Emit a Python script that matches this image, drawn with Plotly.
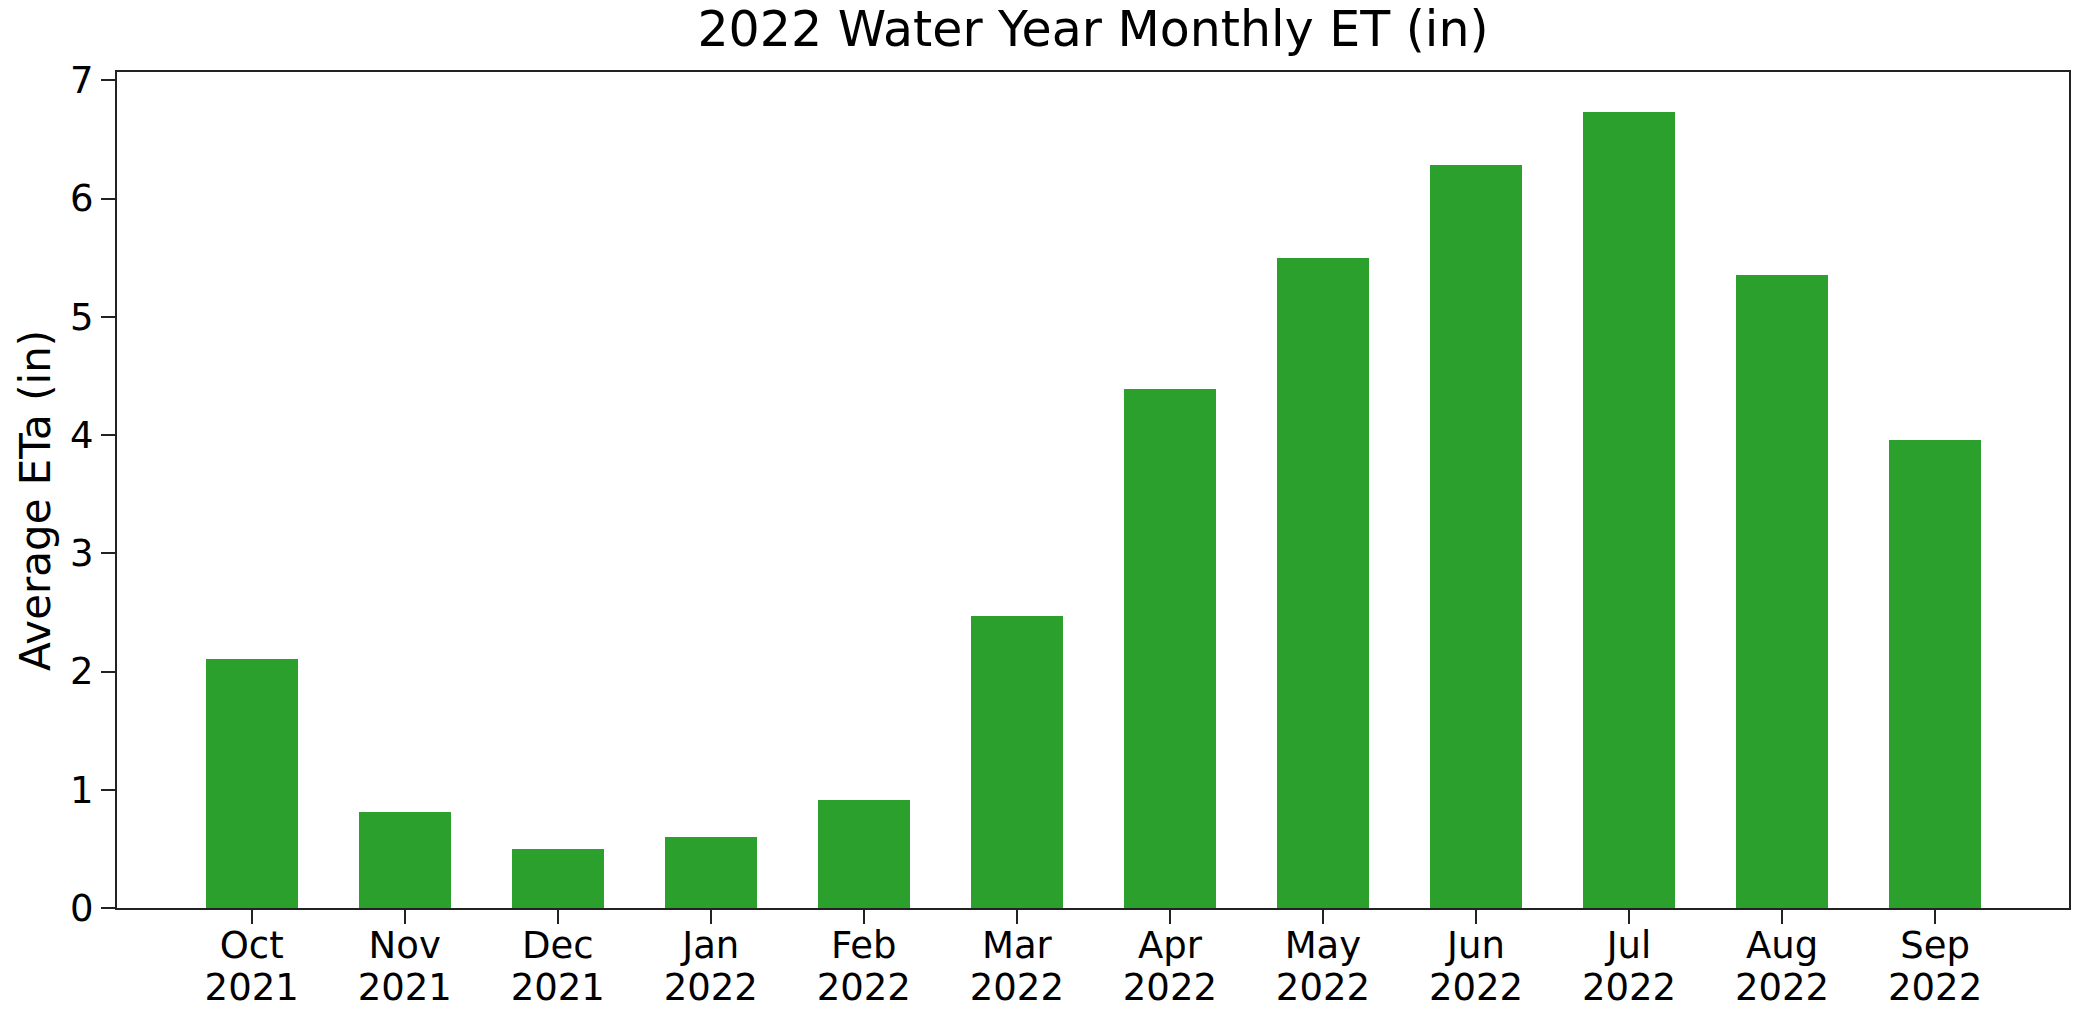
import plotly.graph_objects as go

months = ["Oct", "Nov", "Dec", "Jan", "Feb", "Mar", "Apr", "May", "Jun", "Jul", "Aug", "Sep"]
years = ["2021", "2021", "2021", "2022", "2022", "2022", "2022", "2022", "2022", "2022", "2022", "2022"]
eta_in = [2.11, 0.81, 0.50, 0.60, 0.91, 2.47, 4.39, 5.50, 6.28, 6.73, 5.35, 3.96]
y_ticks = [0, 1, 2, 3, 4, 5, 6, 7]

xpos = list(range(len(months)))

FONT = "DejaVu Sans"
AX = "#222"

fig = go.Figure()
fig.add_trace(go.Bar(
    x=xpos, y=eta_in, width=0.6,
    marker=dict(color="#2ca02c", line=dict(width=0)),
))
# invisible carrier so the year-label axis is drawn
fig.add_trace(go.Scatter(
    x=xpos, y=eta_in, xaxis="x2", mode="markers",
    marker=dict(opacity=0), hoverinfo="skip",
))

fig.update_layout(
    width=2073, height=1011,
    margin=dict(l=117, r=4, t=72, b=103, pad=0),
    paper_bgcolor="white", plot_bgcolor="white",
    showlegend=False,
    font=dict(family=FONT, color="black", size=37),
    title=dict(text="2022 Water Year Monthly ET (in)", x=0.5, xref="paper",
               y=1 - 29 / 1011, yref="container", yanchor="middle", xanchor="center",
               font=dict(family=FONT, size=49, color="black"), automargin=False),
    bargap=0,
)
fig.update_layout(
    xaxis=dict(
        range=[-0.88, 11.875], tickmode="array", tickvals=xpos, ticktext=months,
        showline=True, mirror=True, linecolor=AX, linewidth=2,
        ticks="outside", ticklen=14, tickwidth=2, tickcolor=AX,
        showgrid=False, zeroline=False, automargin=False,
        ticklabelstandoff=-10,
        tickfont=dict(family=FONT, size=37, color="black"),
    ),
    xaxis2=dict(
        overlaying="x", side="bottom", anchor="y",
        range=[-0.88, 11.875], tickmode="array", tickvals=xpos, ticktext=years,
        showline=False, ticks="", showgrid=False, zeroline=False, automargin=False,
        ticklabelstandoff=54,
        tickfont=dict(family=FONT, size=37, color="black"),
    ),
    yaxis=dict(
        range=[0, 7.07], tickmode="array", tickvals=y_ticks,
        showline=True, mirror=True, linecolor=AX, linewidth=2,
        ticks="outside", ticklen=14, tickwidth=2, tickcolor=AX,
        showgrid=False, zeroline=False, automargin=False,
        tickfont=dict(family=FONT, size=37, color="black"),
    ),
)
fig.add_annotation(
    text="Average ETa (in)", textangle=-90,
    xref="paper", yref="paper", x=(36 - 117) / 1952, y=(908 - 501) / 836,
    xanchor="center", yanchor="middle", showarrow=False,
    font=dict(family=FONT, size=42, color="black"),
)

fig.write_html("out.html", config={"displayModeBar": False},
               post_script="document.body.style.margin='0';document.body.style.overflow='hidden';")
